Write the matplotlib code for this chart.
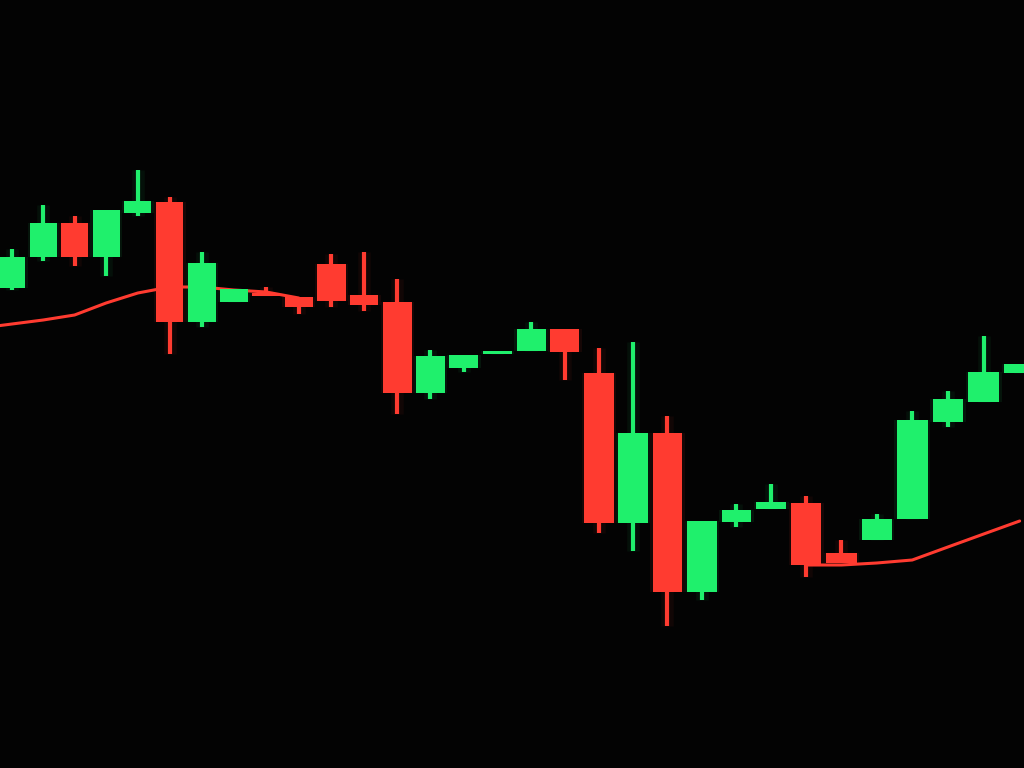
import matplotlib
matplotlib.use('Agg')
import matplotlib.pyplot as plt
import numpy as np

# candle data (price units), one entry per bar
opens  = [48.0, 51.1, 54.5, 51.1, 55.5, 56.6, 44.6, 46.6, 47.5, 47.1, 50.4,
          47.3, 46.6, 37.5, 40.0, 41.4, 41.7, 43.9, 39.5, 24.5, 33.5, 17.6,
          24.6, 25.9, 26.5, 21.5, 22.8, 24.9, 34.6, 36.6, 39.5]
closes = [51.1, 54.5, 51.1, 55.8, 56.7, 44.6, 50.5, 47.9, 47.2, 46.1, 46.7,
          46.3, 37.5, 41.2, 41.3, 41.7, 43.9, 41.6, 24.5, 33.5, 17.6, 24.7,
          25.8, 26.6, 20.3, 20.5, 24.9, 34.8, 36.9, 39.6, 40.4]
highs  = [51.9, 56.3, 55.2, 55.8, 59.8, 57.1, 51.6, 47.9, 48.1, 47.1, 51.4,
          51.6, 48.9, 41.8, 41.3, 41.7, 44.6, 43.9, 42.0, 42.6, 35.2, 24.7,
          26.4, 28.4, 27.2, 22.8, 25.4, 35.7, 37.7, 43.2, 40.4]
lows   = [47.8, 50.7, 50.2, 49.2, 55.2, 41.4, 44.1, 46.6, 47.2, 45.4, 46.1,
          45.7, 35.4, 36.9, 39.6, 41.4, 41.7, 38.8, 23.5, 21.7, 14.2, 16.8,
          24.1, 25.9, 19.1, 20.5, 22.8, 24.9, 34.1, 36.6, 39.5]
# moving average from the bar before the view, hidden in the middle
ma = [44.0, 44.4, 44.8, 45.3, 46.5, 47.5, 48.1, 48.1, 47.8, 47.6, 47.0] + [np.nan]*14 + \
     [20.3, 20.3, 20.5, 20.8, 22.1, 23.4, 24.7]

up_col = '#1ff06c'
dn_col = '#ff3b30'
bg = '#030303'

idx = np.arange(len(opens))
ma_idx = np.arange(-1, len(ma) - 1)
o = np.array(opens); c = np.array(closes)
colors = [up_col if cc >= oo else dn_col for oo, cc in zip(o, c)]

# slight perspective stretch along time axis
b, k = 31.1, 0.0822
def fwd(x):
    return b*x + k*x**2
def inv(u):
    return (-b + np.sqrt(np.maximum(b*b + 4*k*u, 0))) / (2*k)

fig = plt.figure(figsize=(10.24, 7.68), dpi=100, facecolor=bg)
ax = fig.add_axes([0, 0, 1, 1])
ax.set_facecolor(bg)
ax.set_xscale('function', functions=(fwd, inv))

ax.plot(ma_idx, ma, color=dn_col, lw=2.2, zorder=1, solid_capstyle='round')

# glow
ax.vlines(idx, lows, highs, colors=colors, lw=9, alpha=0.06, zorder=2)
ax.bar(idx, np.abs(c - o), bottom=np.minimum(o, c), width=1.0,
       color=colors, alpha=0.08, zorder=2, linewidth=0)

ax.vlines(idx, lows, highs, colors=colors, lw=3, zorder=3)
body = np.maximum(np.abs(c - o), 0.3)
ax.bar(idx, body, bottom=np.minimum(o, c), width=0.86,
       color=colors, zorder=4, linewidth=0)

ax.set_xlim(-0.386, 30.12)
ax.set_ylim(0, 76.8)
ax.axis('off')

fig.savefig('out.png', dpi=100, facecolor=bg)
